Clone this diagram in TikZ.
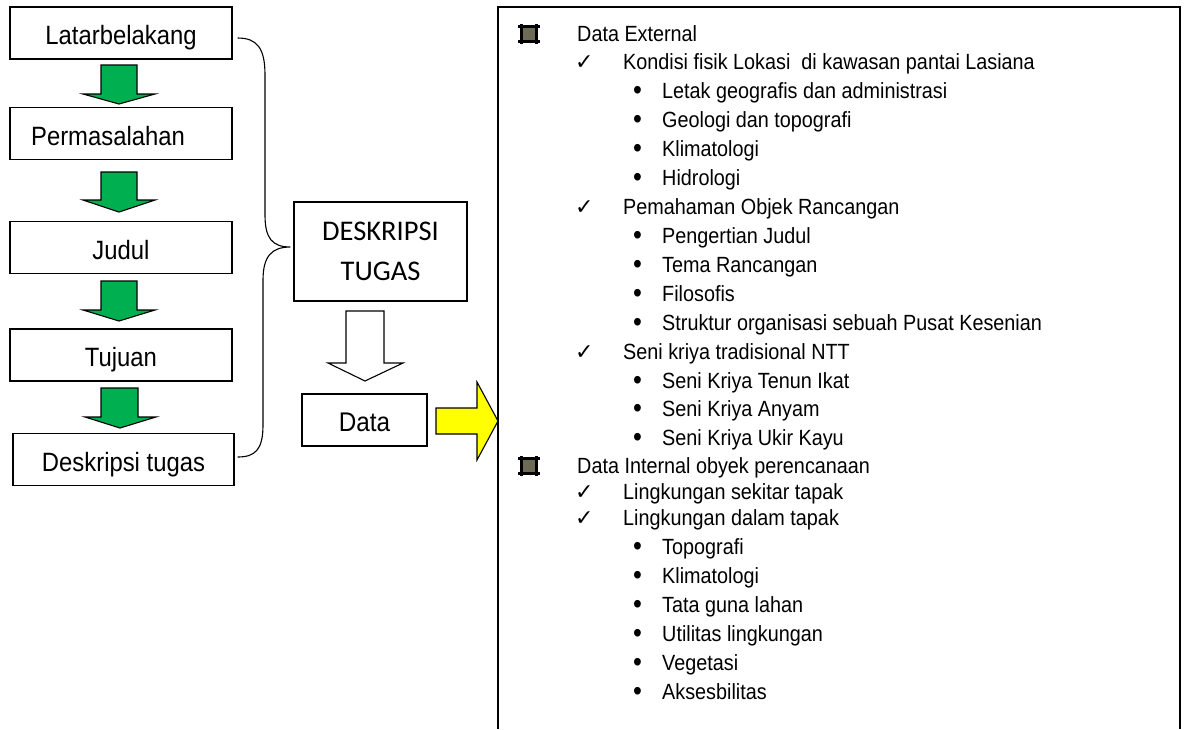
\documentclass[tikz,border=0pt]{standalone}
\usepackage{fontspec}
\setmainfont{Liberation Sans}[FakeStretch=0.9]
\newfontfamily\calfont{Carlito}
\newfontfamily\symfont{DejaVu Sans}
\usetikzlibrary{calc}
\definecolor{arrgreen}{HTML}{00B050}
\definecolor{arryellow}{HTML}{FFFF00}
\definecolor{symolive}{HTML}{6E6A55}
\begin{document}
\begin{tikzpicture}[x=1pt,y=-1pt,
  flowbox/.style={draw, line width=1.1pt, inner sep=0pt, minimum width=222pt,
    text height=37.5pt, text depth=14.5pt, font=\fontsize{26.5}{30}\selectfont},
  greenarr/.style={draw, line width=1.1pt, fill=arrgreen, line join=miter},
  hollowarr/.style={draw, line width=1.1pt, fill=white},
  yellowarr/.style={draw, line width=1.1pt, fill=arryellow},
  bracestyle/.style={draw, line width=1.1pt},
  panel/.style={draw, line width=1.6pt},
  lvlone/.style={anchor=base west, inner sep=0pt, font=\fontsize{22}{26}\selectfont},
  chk/.style={anchor=base west, inner sep=0pt, font=\symfont\fontsize{22}{24}\selectfont},
  bul/.style={anchor=base west, inner sep=0pt, font=\fontsize{28}{30}\selectfont},
]
\useasboundingbox (0,0) rectangle (1188,729);

% left column boxes
\node[flowbox] (lat) at (121,33) {Latarbelakang};
\node[flowbox] (perm) at (121,133.5) {Permasalahan\hspace*{26pt}};
\node[flowbox] (jud) at (121,247.5) {Judul};
\node[flowbox] (tuj) at (121,355) {Tujuan};
\node[flowbox, minimum width=221pt] (desk) at (123.5,459.5) {Deskripsi tugas};

% green block arrows
\draw[greenarr] (101,65) -- (137,65) -- (137,94) -- (155,94) -- (119,104) -- (83,94) -- (101,94) -- cycle;
\draw[greenarr] (101,172) -- (137,172) -- (137,200) -- (155,200) -- (119,212) -- (83,200) -- (101,200) -- cycle;
\draw[greenarr] (101,281) -- (137,281) -- (137,310) -- (155,310) -- (119,321) -- (83,310) -- (101,310) -- cycle;
\draw[greenarr] (101,388) -- (138,388) -- (138,417) -- (156,417) -- (120,428) -- (85,417) -- (101,417) -- cycle;

% DESKRIPSI TUGAS box
\node[draw, line width=1.1pt, inner sep=0pt, minimum width=173pt, minimum height=99pt,
      align=center, font=\calfont\fontsize{28.5}{40}\selectfont] (dt) at (380.5,251.5) {DESKRIPSI\\TUGAS};

% brace
\coordinate (bt) at ($(lat.east)+(5,5)$);
\coordinate (bb) at ($(desk.east)+(3,-2.5)$);
\coordinate (tip) at ($(dt.west)+(-3,-4.5)$);
\draw[bracestyle] (bt) .. controls (257,38) and (265,48) .. (265,75) -- (265,215)
   .. controls (265,238) and (272,247) .. (tip)
   .. controls (272,247) and (263,256) .. (263,280) -- (263,425)
   .. controls (263,450) and (255,457) .. (bb);

% hollow arrow
\draw[hollowarr] (346,311) -- (384,311) -- (384,363) -- (403,363) -- (365,381) -- (328,363) -- (346,363) -- cycle;

% Data box
\node[flowbox, minimum width=125pt, text height=37pt, text depth=15pt, font=\fontsize{27}{30}\selectfont] (data) at (364.5,420) {Data};

% yellow arrow
\draw[yellowarr] (436,408) -- (477,408) -- (477,382) -- (498,421) -- (477,460) -- (477,434) -- (436,434) -- cycle;

% right panel
\draw[panel] (498,729) -- (498,7) -- (1180,7) -- (1180,729);

% hash symbols
\foreach \cy in {34,466}{
  \fill[symolive] (520,\cy-8.5) rectangle (538,\cy+8.5);
  \draw[line width=2.6pt] (518,\cy-7.5) -- (540,\cy-7.5) (518,\cy+7.5) -- (540,\cy+7.5)
                        (521.5,\cy-10) -- (521.5,\cy+10) (536.5,\cy-10) -- (536.5,\cy+10);
}

% panel text
\node[lvlone] (e0) at (577,41) {Data External};
\node[chk] (c1) at (575,69) {✓};
\node[lvlone] (e1) at (623,69) {Kondisi fisik Lokasi \ di kawasan pantai Lasiana};
\node[bul] (d1) at (633,99) {•};
\node[lvlone] (e11) at (662,98) {Letak geografis dan administrasi};
\node[bul] (d2) at (633,128) {•};
\node[lvlone] (e12) at (662,127) {Geologi dan topografi};
\node[bul] (d3) at (633,157) {•};
\node[lvlone] (e13) at (662,156) {Klimatologi};
\node[bul] (d4) at (633,186) {•};
\node[lvlone] (e14) at (662,185) {Hidrologi};
\node[chk] (c2) at (575,214) {✓};
\node[lvlone] (e2) at (623,214) {Pemahaman Objek Rancangan};
\node[bul] (d5) at (633,244) {•};
\node[lvlone] (e21) at (662,243) {Pengertian Judul};
\node[bul] (d6) at (633,273) {•};
\node[lvlone] (e22) at (662,272) {Tema Rancangan};
\node[bul] (d7) at (633,302) {•};
\node[lvlone] (e23) at (662,301) {Filosofis};
\node[bul] (d8) at (633,331) {•};
\node[lvlone] (e24) at (662,330) {Struktur organisasi sebuah Pusat Kesenian};
\node[chk] (c3) at (575,359) {✓};
\node[lvlone] (e3) at (623,359) {Seni kriya tradisional NTT};
\node[bul] (d9) at (633,389) {•};
\node[lvlone] (e31) at (662,388) {Seni Kriya Tenun Ikat};
\node[bul] (d10) at (633,417) {•};
\node[lvlone] (e32) at (662,416) {Seni Kriya Anyam};
\node[bul] (d11) at (633,446) {•};
\node[lvlone] (e33) at (662,445) {Seni Kriya Ukir Kayu};
\node[lvlone] (i0) at (577,473) {Data Internal obyek perencanaan};
\node[chk] (c4) at (575,499) {✓};
\node[lvlone] (i1) at (623,499) {Lingkungan sekitar tapak};
\node[chk] (c5) at (575,525) {✓};
\node[lvlone] (i2) at (623,525) {Lingkungan dalam tapak};
\node[bul] (d12) at (633,555) {•};
\node[lvlone] (i21) at (662,554) {Topografi};
\node[bul] (d13) at (633,584) {•};
\node[lvlone] (i22) at (662,583) {Klimatologi};
\node[bul] (d14) at (633,613) {•};
\node[lvlone] (i23) at (662,612) {Tata guna lahan};
\node[bul] (d15) at (633,642) {•};
\node[lvlone] (i24) at (662,641) {Utilitas lingkungan};
\node[bul] (d16) at (633,671) {•};
\node[lvlone] (i25) at (662,670) {Vegetasi};
\node[bul] (d17) at (633,700) {•};
\node[lvlone] (i26) at (662,699) {Aksesbilitas};
\end{tikzpicture}
\end{document}
